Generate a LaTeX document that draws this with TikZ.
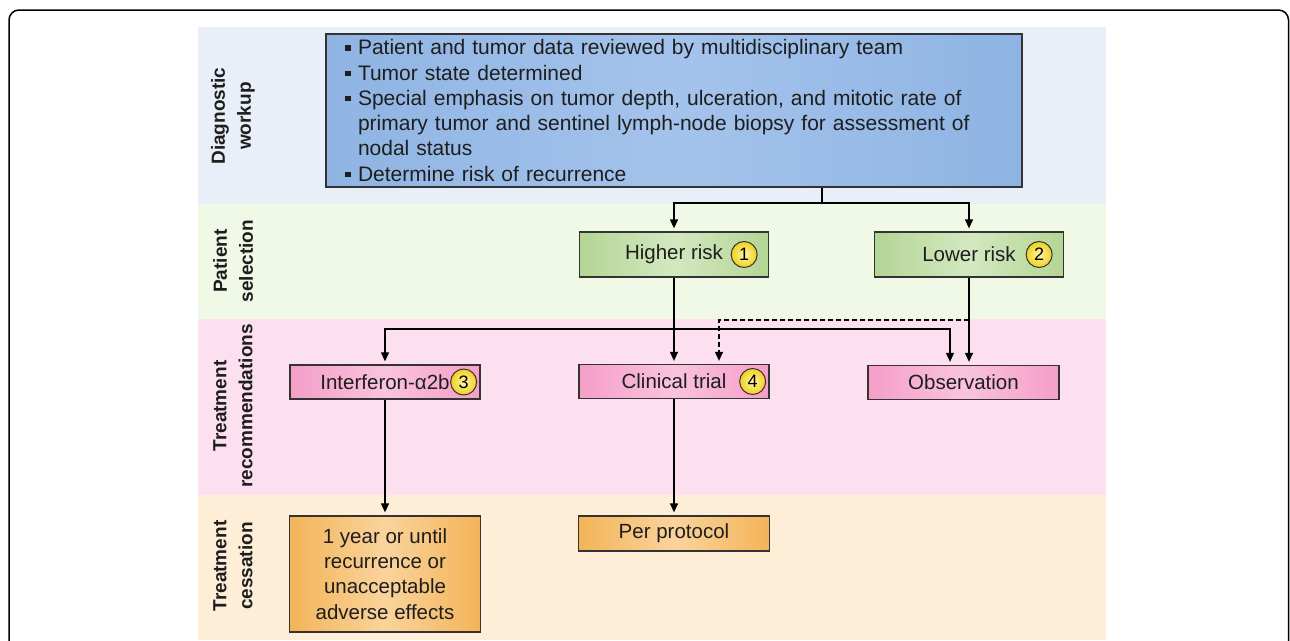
\documentclass[tikz,border=0pt]{standalone}
\usepackage{fontspec}
\setmainfont{Liberation Sans}
\usetikzlibrary{arrows.meta}

\definecolor{bandBlue}{HTML}{E9EFF9}
\definecolor{bandGreen}{HTML}{F0F9E6}
\definecolor{bandPink}{HTML}{FDE0EF}
\definecolor{bandOrange}{HTML}{FEEED8}
\definecolor{boxBlueA}{HTML}{8FB4E3}
\definecolor{boxBlueB}{HTML}{A4C3EC}
\definecolor{boxGreenA}{HTML}{B3D595}
\definecolor{boxGreenB}{HTML}{D3E8C0}
\definecolor{boxPinkA}{HTML}{F59EC8}
\definecolor{boxPinkB}{HTML}{F9C3DD}
\definecolor{boxOrangeA}{HTML}{F3B458}
\definecolor{boxOrangeB}{HTML}{FAD39C}
\definecolor{edgeGray}{HTML}{333333}
\definecolor{inkGray}{HTML}{1E1E1E}
\definecolor{numYellow}{HTML}{F2CF1E}
\definecolor{numLight}{HTML}{FFF6A8}

\newcommand\sqbullet{\makebox[13pt][l]{\rule[4pt]{5.5pt}{5.5pt}}}

\begin{document}
\begin{tikzpicture}[x=1pt,y=-1pt,
    txt/.style={font=\fontsize{20.5}{25.2}\selectfont,text=inkGray},
    box/.style={draw=edgeGray,line width=1.3pt,inner sep=0pt,align=center,txt},
    diagbox/.style={box,left color=boxBlueA,right color=boxBlueA,middle color=boxBlueB},
    riskbox/.style={box,left color=boxGreenA,right color=boxGreenA,middle color=boxGreenB,minimum width=189pt,minimum height=45pt},
    treatbox/.style={box,left color=boxPinkA,right color=boxPinkA,middle color=boxPinkB,minimum width=190pt,minimum height=34pt},
    stopbox/.style={box,left color=boxOrangeA,right color=boxOrangeA,middle color=boxOrangeB,minimum width=191pt},
    numtag/.style={circle,draw=edgeGray,line width=1pt,inner color=numLight,outer color=numYellow,minimum size=26pt,inner sep=0pt,font=\fontsize{18}{18}\selectfont},
    rowlabel/.style={rotate=90,align=center,text=inkGray,font=\bfseries\fontsize{19}{26}\selectfont},
    link/.style={line width=1.2pt,-{Triangle[length=9pt,width=8pt]},shorten >=3pt}]
    \useasboundingbox (0,0) rectangle (1290,640);

    % Bands
    \fill[bandBlue] (198,27) rectangle (1106,204);
    \fill[bandGreen] (198,204) rectangle (1106,319);
    \fill[bandPink] (198,319) rectangle (1106,495);
    \fill[bandOrange] (198,495) rectangle (1106,640);
    \draw[line width=1.5pt,rounded corners=10pt] (9,700) -- (9,10) -- (1288.5,10) -- (1288.5,700);

    % Row labels
    \node[rowlabel] (lblDiag) at (233,116) {Diagnostic\\workup};
    \node[rowlabel] (lblSel) at (233,261) {Patient\\selection};
    \node[rowlabel] (lblRec) at (233,406) {Treatment\\recommendations};
    \node[rowlabel] (lblStop) at (233,566) {Treatment\\cessation};

    % Workup
    \node[diagbox,minimum width=696pt,minimum height=153pt,text width=658pt,align=left,font=\fontsize{21}{25.3}\selectfont] (diag) at (674,110.5) {%
        \sqbullet Patient and tumor data reviewed by multidisciplinary team\\
        \sqbullet Tumor state determined\\
        \sqbullet Special emphasis on tumor depth, ulceration, and mitotic rate of\\
        \hspace*{13pt}primary tumor and sentinel lymph-node biopsy for assessment of\\
        \hspace*{13pt}nodal status\\
        \sqbullet Determine risk of recurrence};

    % Selection
    \node[riskbox] (higher) at (674,254.5) {Higher risk};
    \node[riskbox] (lower) at (969,254.5) {Lower risk};
    \node[numtag] (n1) at ([xshift=-25pt]higher.east) {1};
    \node[numtag] (n2) at ([xshift=-25pt]lower.east) {2};

    % Recommendations
    \node[treatbox] (ifn) at (385,382) {Interferon-α2b};
    \node[treatbox] (trial) at (674,381.5) {Clinical trial};
    \node[treatbox,minimum width=191pt] (obs) at (963.5,382.5) {Observation};
    \node[numtag] (n3) at ([xshift=-17pt]ifn.east) {3};
    \node[numtag] (n4) at ([xshift=-17pt]trial.east) {4};

    % Cessation
    \node[stopbox,minimum height=116pt] (year) at (385,574) {1 year or until\\recurrence or\\unacceptable\\adverse effects};
    \node[stopbox,minimum height=35pt] (proto) at (674,533.5) {Per protocol};

    % Arrows
    \coordinate (split) at (822,203);
    \draw[line width=1.2pt] (diag.south -| split) -- (split);
    \draw[link] (split) -| (higher.north);
    \draw[link] (split) -| (lower.north);

    \coordinate (fan) at (674,329);
    \draw[link] (higher.south) -- (trial.north);
    \draw[link] (fan) -| (ifn.north);
    \draw[link] (fan) -| ([xshift=-13.5pt]obs.north);

    \draw[link] (lower.south) -- (lower.south |- obs.north);
    \coordinate (dsh) at (969,320);
    \draw[link,dash pattern=on 5pt off 3pt] (dsh) -| ([xshift=45pt]trial.north);

    \draw[link] (ifn.south) -- (ifn.south |- year.north);
    \draw[link] (trial.south) -- (trial.south |- proto.north);
\end{tikzpicture}
\end{document}
